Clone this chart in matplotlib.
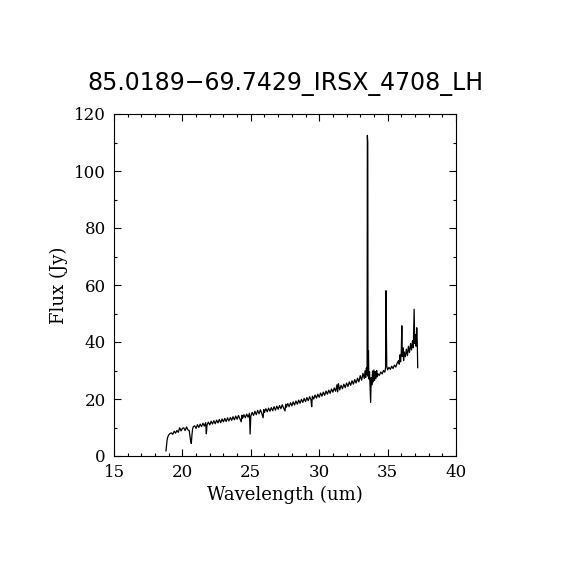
"""
LH spectrum plot, 85.0189-69.7429 (IRSX 4708)
"""

import matplotlib
matplotlib.use("Agg")
import matplotlib.pyplot as plt
from matplotlib.ticker import MultipleLocator

TITLE = "85.0189\u221269.7429_IRSX_4708_LH"

# wavelength (um) and flux (Jy)
wave = [18.80, 18.84, 18.88, 18.92, 18.96, 19.00, 19.10, 19.20, 19.30, 19.40,
        19.50, 19.60, 19.70, 19.80, 19.90, 20.00, 20.10, 20.20, 20.30, 20.40,
        20.50, 20.55, 20.60, 20.65, 20.70, 20.75, 20.80, 20.90, 21.00, 21.10,
        21.20, 21.30, 21.40, 21.50, 21.60, 21.70, 21.75, 21.80, 21.90, 22.00,
        22.10, 22.20, 22.30, 22.40, 22.50, 22.60, 22.70, 22.80, 22.90, 23.00,
        23.10, 23.20, 23.30, 23.40, 23.50, 23.60, 23.70, 23.80, 23.90, 24.00,
        24.10, 24.20, 24.30, 24.35, 24.40, 24.50, 24.60, 24.70, 24.80, 24.90,
        24.95, 25.00, 25.10, 25.20, 25.30, 25.40, 25.50, 25.60, 25.70, 25.80,
        25.90, 25.95, 26.00, 26.10, 26.20, 26.30, 26.40, 26.50, 26.60, 26.70,
        26.80, 26.90, 27.00, 27.10, 27.20, 27.30, 27.40, 27.50, 27.55, 27.60,
        27.70, 27.80, 27.90, 28.00, 28.10, 28.20, 28.30, 28.40, 28.50, 28.60,
        28.70, 28.80, 28.90, 29.00, 29.10, 29.20, 29.30, 29.40, 29.45, 29.50,
        29.60, 29.70, 29.80, 29.90, 30.00, 30.10, 30.20, 30.30, 30.40, 30.50,
        30.60, 30.70, 30.80, 30.90, 31.00, 31.10, 31.20, 31.30, 31.35, 31.40,
        31.50, 31.60, 31.70, 31.80, 31.90, 32.00, 32.10, 32.20, 32.30, 32.40,
        32.50, 32.60, 32.70, 32.80, 32.90, 33.00, 33.10, 33.20, 33.30, 33.35,
        33.40, 33.45, 33.50, 33.52, 33.55, 33.57, 33.60, 33.63, 33.68, 33.72,
        33.76, 33.80, 33.85, 33.90, 33.95, 34.00, 34.05, 34.10, 34.15, 34.20,
        34.25, 34.30, 34.40, 34.50, 34.60, 34.70, 34.80, 34.85, 34.88, 34.91,
        34.94, 35.00, 35.10, 35.20, 35.30, 35.40, 35.50, 35.60, 35.70, 35.80,
        35.85, 35.90, 35.95, 36.00, 36.04, 36.07, 36.12, 36.17, 36.22, 36.30,
        36.37, 36.45, 36.52, 36.60, 36.68, 36.75, 36.82, 36.88, 36.94, 36.98,
        37.03, 37.08, 37.13, 37.17, 37.20]

flux = [1.8, 3.9, 5.6, 6.5, 7.0, 7.4, 7.9, 8.1, 7.6, 8.7,
        8.0, 9.0, 8.3, 9.9, 8.8, 9.7, 9.9, 8.9, 10.2, 9.2,
        8.9, 7.2, 5.3, 4.4, 7.5, 9.6, 10.3, 10.6, 9.7, 11.0,
        10.0, 11.2, 10.3, 11.5, 10.5, 11.7, 7.8, 10.9, 11.9, 10.9,
        12.2, 11.2, 12.4, 11.3, 12.6, 11.6, 12.8, 11.7, 13.0, 12.0,
        13.2, 12.1, 13.4, 12.3, 13.5, 12.5, 13.8, 12.7, 14.0, 12.9,
        14.2, 13.1, 12.0, 14.3, 13.2, 14.5, 13.4, 14.7, 13.6, 15.0,
        7.7, 14.0, 15.3, 14.2, 15.7, 14.5, 16.0, 14.8, 16.2, 15.0,
        13.4, 16.3, 15.3, 16.6, 15.5, 16.8, 15.7, 17.0, 15.9, 17.3,
        16.1, 17.5, 16.4, 17.7, 16.6, 18.0, 16.8, 15.8, 18.2, 17.1,
        18.4, 17.3, 18.7, 17.6, 19.0, 17.9, 19.3, 18.2, 19.6, 18.5,
        19.9, 18.8, 20.2, 19.1, 20.5, 19.4, 20.8, 19.7, 17.3, 21.0,
        20.0, 21.4, 20.3, 21.7, 20.6, 22.1, 21.0, 22.4, 21.3, 22.8,
        21.7, 23.1, 22.0, 23.5, 22.4, 23.9, 22.7, 25.0, 22.5, 25.4,
        23.2, 24.8, 23.6, 25.2, 24.0, 25.6, 24.4, 26.0, 24.8, 26.4,
        25.2, 26.8, 25.6, 27.3, 26.0, 28.2, 26.6, 29.0, 27.2, 29.9,
        27.6, 30.9, 28.6, 112.5, 110.0, 28.0, 37.0, 27.0, 29.5, 24.0,
        18.8, 27.5, 25.0, 29.8, 26.0, 30.2, 26.5, 29.6, 27.2, 30.0,
        27.8, 28.8, 28.3, 29.5, 28.8, 30.0, 29.4, 31.0, 58.0, 45.0,
        31.5, 30.2, 31.1, 30.4, 31.5, 30.7, 31.9, 31.2, 32.6, 33.5,
        32.2, 35.5, 33.0, 36.5, 45.7, 35.0, 38.0, 33.5, 36.5, 34.8,
        37.5, 35.2, 38.5, 36.3, 39.5, 37.2, 40.5, 38.0, 51.5, 39.5,
        42.5, 38.5, 45.0, 40.0, 31.0]

fig = plt.figure(figsize=(5.7, 5.7), dpi=100)
ax = fig.add_axes([0.2, 0.2, 0.6, 0.6])

ax.plot(wave, flux, color="black", linewidth=0.9)

ax.set_xlim(15, 40)
ax.set_ylim(0, 120)
ax.xaxis.set_major_locator(MultipleLocator(5))
ax.xaxis.set_minor_locator(MultipleLocator(1))
ax.yaxis.set_major_locator(MultipleLocator(20))
ax.yaxis.set_minor_locator(MultipleLocator(10))
ax.tick_params(which="both", direction="in", top=True, right=True, width=0.8)
ax.tick_params(which="major", length=5, pad=6)
ax.tick_params(which="minor", length=2.5)
for spine in ax.spines.values():
    spine.set_linewidth(0.8)

for lab in ax.get_xticklabels() + ax.get_yticklabels():
    lab.set_family("DejaVu Serif")
    lab.set_fontsize(12)

ax.set_xlabel("Wavelength (um)", family="DejaVu Serif", fontsize=13, labelpad=3)
ax.set_ylabel("Flux (Jy)", family="DejaVu Serif", fontsize=13, labelpad=4)
ax.set_title(TITLE, fontsize=17, pad=17)

fig.savefig("out.png", dpi=100)
